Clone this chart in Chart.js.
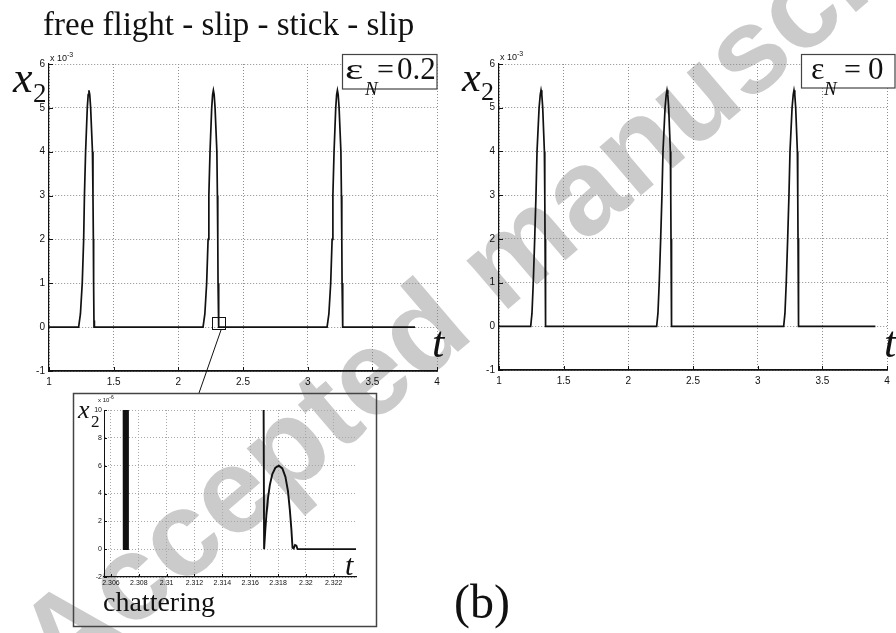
<!DOCTYPE html>
<html>
<head>
<meta charset="utf-8">
<title>free flight - slip - stick - slip</title>
<script src="https://cdn.jsdelivr.net/npm/chart.js@4.4.0/dist/chart.umd.min.js"></script>
<style>
  html, body { margin: 0; padding: 0; background: #fff; }
  #page { position: relative; width: 896px; height: 633px; overflow: hidden; background: #fff; }
  #page svg, #page canvas { position: absolute; }
  #wm { left: 0; top: 0; z-index: 0; }
  #ov { left: 0; top: 0; z-index: 3; pointer-events: none; }
  canvas { z-index: 2; }
  .serif { font-family: "Liberation Serif", "Times New Roman", serif; fill: #111; }
  .sans { font-family: "Liberation Sans", Arial, sans-serif; fill: #111; }
</style>
</head>
<body>
<div id="page">
  <svg id="wm" width="896" height="633">
    <text x="62" y="690" transform="rotate(-40.5 62 690)" font-family="Liberation Sans, Arial, sans-serif"
          font-weight="bold" font-size="121" fill="#cbcbcb">Accepted manuscript</text>
  </svg>

  <canvas id="slip" width="450" height="345" style="left:0;top:50px"></canvas>
  <canvas id="plastic" width="446" height="345" style="left:450px;top:50px"></canvas>
  <canvas id="chatter" width="304" height="200" style="left:73px;top:393px"></canvas>

  <svg id="ov" width="896" height="633">
    <text class="serif" x="43" y="35" font-size="33">free flight - slip - stick - slip</text>

    <!-- left panel -->
    <text class="serif" x="13" y="92" font-size="44" font-style="italic">x</text>
    <text class="serif" x="33" y="102" font-size="27">2</text>
    <text class="sans" x="50" y="61" font-size="9">x 10<tspan dy="-4" font-size="7">-3</tspan></text>
    <rect x="342.5" y="54.5" width="94.5" height="34.5" fill="#fff" stroke="#444" stroke-width="1.2"/>
    <text class="serif" transform="translate(345 79) scale(1.45 1)" x="0" y="0" font-size="30">ε</text>
    <text class="serif" x="365" y="95" font-size="19" font-style="italic">N</text>
    <text class="serif" x="377" y="79" font-size="30">=</text>
    <text class="serif" x="397" y="79" font-size="31">0.2</text>
    <text class="serif" x="432" y="357" font-size="44" font-style="italic">t</text>
    <rect x="212.5" y="317.5" width="13" height="12" fill="none" stroke="#111" stroke-width="1"/>
    <line x1="221" y1="330" x2="199" y2="393" stroke="#111" stroke-width="1"/>

    <!-- right panel -->
    <text class="serif" x="462" y="91" font-size="42" font-style="italic">x</text>
    <text class="serif" x="481" y="100" font-size="26">2</text>
    <text class="sans" x="500" y="60" font-size="9">x 10<tspan dy="-4" font-size="7">-3</tspan></text>
    <rect x="801.5" y="54.5" width="93.5" height="33.5" fill="#fff" stroke="#444" stroke-width="1.2"/>
    <text class="serif" x="811" y="79" font-size="32">ε</text>
    <text class="serif" x="824" y="95" font-size="19" font-style="italic">N</text>
    <text class="serif" x="844" y="79" font-size="30">=</text>
    <text class="serif" x="868" y="79" font-size="31">0</text>
    <text class="serif" x="884" y="357" font-size="44" font-style="italic">t</text>

    <!-- inset -->
    <rect x="73.5" y="393.5" width="303" height="233" fill="none" stroke="#444" stroke-width="1.5"/>
    <text class="serif" x="78" y="418" font-size="26" font-style="italic">x</text>
    <text class="serif" x="91" y="427" font-size="17">2</text>
    <text class="sans" x="98" y="402" font-size="6">x 10<tspan dy="-3" font-size="5">-6</tspan></text>
    <text class="serif" x="345" y="575" font-size="30" font-style="italic">t</text>
    <text class="serif" x="103" y="611" font-size="28">chattering</text>

    <text class="serif" x="454" y="618" font-size="48">(b)</text>
  </svg>
</div>

<script>
// tick positions and labels
var mainTicksT = [1, 1.5, 2, 2.5, 3, 3.5, 4];
var mainTickLabelsT = ['1', '1.5', '2', '2.5', '3', '3.5', '4'];
var mainTicksX2 = [-1, 0, 1, 2, 3, 4, 5, 6];
var mainTickLabelsX2 = ['-1', '0', '1', '2', '3', '4', '5', '6'];

var insetTicksT = [2.306, 2.308, 2.31, 2.312, 2.314, 2.316, 2.318, 2.32, 2.322];
var insetTickLabelsT = ['2.306', '2.308', '2.31', '2.312', '2.314', '2.316', '2.318', '2.32', '2.322'];
var insetTicksX2 = [-2, 0, 2, 4, 6, 8, 10];
var insetTickLabelsX2 = ['-2', '0', '2', '4', '6', '8', '10'];

// eps_N = 0.2 : x2 in units of 1e-3
var slipT = [1.000,
  1.229, 1.243, 1.257, 1.268, 1.274, 1.283, 1.296, 1.303, 1.309, 1.315, 1.322, 1.336, 1.340, 1.343, 1.345, 1.348, 1.350, 1.352,
  2.191, 2.205, 2.219, 2.230, 2.236, 2.245, 2.258, 2.265, 2.271, 2.277, 2.284, 2.298, 2.302, 2.305, 2.307, 2.310, 2.312, 2.314,
  3.150, 3.164, 3.178, 3.189, 3.195, 3.204, 3.217, 3.224, 3.230, 3.236, 3.243, 3.257, 3.261, 3.264, 3.266, 3.269, 3.271, 3.273,
  3.830];
var slipX2 = [0,
  0, 0.3, 1, 2, 3, 4, 5, 5.3, 5.4, 5.3, 5.0, 4, 3, 2, 1, 0, 0.15, 0,
  0, 0.3, 1, 2, 3, 4, 5, 5.3, 5.4, 5.3, 5.0, 4, 3, 2, 1, 0, 0.15, 0,
  0, 0.3, 1, 2, 3, 4, 5, 5.3, 5.4, 5.3, 5.0, 4, 3, 2, 1, 0, 0.15, 0,
  0];

// eps_N = 0 : x2 in units of 1e-3
var plasticT = [1.000,
  1.245, 1.255, 1.265, 1.276, 1.286, 1.294, 1.310, 1.319, 1.325, 1.331, 1.338, 1.351, 1.354, 1.356, 1.359, 1.361,
  2.219, 2.229, 2.239, 2.250, 2.260, 2.268, 2.284, 2.293, 2.299, 2.305, 2.312, 2.325, 2.328, 2.330, 2.333, 2.335,
  3.201, 3.211, 3.221, 3.232, 3.242, 3.250, 3.266, 3.275, 3.281, 3.287, 3.294, 3.307, 3.310, 3.312, 3.315, 3.317,
  3.910];
var plasticX2 = [0,
  0, 0.3, 1, 2, 3, 4, 5, 5.3, 5.4, 5.3, 5.0, 4, 3, 2, 1, 0,
  0, 0.3, 1, 2, 3, 4, 5, 5.3, 5.4, 5.3, 5.0, 4, 3, 2, 1, 0,
  0, 0.3, 1, 2, 3, 4, 5, 5.3, 5.4, 5.3, 5.0, 4, 3, 2, 1, 0,
  0];

// zoom around t = 2.31 : x2 in units of 1e-6 (values above 10 leave the frame)
var chatterT = [2.30690, 2.30692, 2.30700, 2.30702, 2.30710, 2.30712, 2.30720, 2.30722,
  2.31693, 2.31700, 2.31708, 2.31716, 2.31727, 2.31741, 2.31759, 2.31781, 2.31806, 2.31831,
  2.31853, 2.31871, 2.31885, 2.31896, 2.31904, 2.31912, 2.31922, 2.31932, 2.31940, 2.32360];
var chatterX2 = [20, 0, 0, 20, 20, 0, 0, 20,
  20, 0, 1.3, 2.4, 3.6, 4.6, 5.4, 5.85, 6.0, 5.8,
  5.2, 4.2, 2.8, 1.4, 0.1, 0.05, 0.3, 0.25, 0, 0];

function toPoints(xs, ys) {
    var pts = [];
    for (var i = 0; i < xs.length; i++) {
        pts.push({ x: xs[i], y: ys[i] });
    }
    return pts;
}

function fixedTicks(values) {
    return function (scale) {
        scale.ticks = values.map(function (v) { return { value: v }; });
    };
}

// matlab style: short tick marks pointing into the plot
var inwardTicks = {
    id: 'inwardTicks',
    afterDatasetsDraw: function (chart, args, opts) {
        var ctx = chart.ctx, a = chart.chartArea, len = opts.len || 4;
        ctx.save();
        ctx.strokeStyle = '#111';
        ctx.lineWidth = 1;
        ctx.beginPath();
        chart.scales.x.ticks.forEach(function (t) {
            var px = Math.round(chart.scales.x.getPixelForValue(t.value)) + 0.5;
            ctx.moveTo(px, a.bottom);
            ctx.lineTo(px, a.bottom - len);
        });
        chart.scales.y.ticks.forEach(function (t) {
            var py = Math.round(chart.scales.y.getPixelForValue(t.value)) + 0.5;
            ctx.moveTo(a.left, py);
            ctx.lineTo(a.left + len, py);
        });
        ctx.stroke();
        ctx.restore();
    }
};

function makeScale(o) {
    return {
        type: 'linear',
        min: o.min,
        max: o.max,
        afterBuildTicks: fixedTicks(o.ticks),
        afterFit: function (scale) {
            if (o.width) scale.width = o.width;
            if (o.height) scale.height = o.height;
        },
        ticks: {
            autoSkip: false,
            maxRotation: 0,
            padding: o.padding,
            color: '#111',
            font: { family: '"Liberation Sans", Arial, sans-serif', size: o.fontSize },
            callback: function (v, i) { return o.labels[i]; }
        },
        grid: { color: o.gridColor, lineWidth: 1, drawTicks: false },
        border: { display: true, color: '#111', width: o.borderWidth, dash: [1, 2] }
    };
}

function drawChart(id, data, cfg) {
    var ctx = document.getElementById(id).getContext('2d');
    return new Chart(ctx, {
        type: 'scatter',
        data: {
            datasets: [{
                data: data,
                showLine: true,
                borderColor: '#111',
                borderWidth: cfg.lineWidth,
                pointRadius: 0,
                tension: 0
            }]
        },
        options: {
            responsive: false,
            animation: false,
            devicePixelRatio: 1,
            events: [],
            layout: { padding: cfg.padding },
            plugins: { legend: { display: false }, tooltip: { enabled: false }, inwardTicks: { len: cfg.tickLen } },
            scales: { x: cfg.x, y: cfg.y }
        },
        plugins: [inwardTicks]
    });
}

var mainFont = 10;

drawChart('slip', toPoints(slipT, slipX2), {
    lineWidth: 1.7,
    tickLen: 4,
    padding: { top: 14, right: 13, left: 0, bottom: 0 },
    x: makeScale({ min: 1, max: 4, ticks: mainTicksT, labels: mainTickLabelsT, height: 24, padding: 5,
        fontSize: mainFont, gridColor: '#8c8c8c', borderWidth: 1.8 }),
    y: makeScale({ min: -1, max: 6, ticks: mainTicksX2, labels: mainTickLabelsX2, width: 49, padding: 4,
        fontSize: mainFont, gridColor: '#8c8c8c', borderWidth: 1.2 })
});

drawChart('plastic', toPoints(plasticT, plasticX2), {
    lineWidth: 1.7,
    tickLen: 4,
    padding: { top: 14, right: 9, left: 0, bottom: 0 },
    x: makeScale({ min: 1, max: 4, ticks: mainTicksT, labels: mainTickLabelsT, height: 25, padding: 5,
        fontSize: mainFont, gridColor: '#8c8c8c', borderWidth: 1.8 }),
    y: makeScale({ min: -1, max: 6, ticks: mainTicksX2, labels: mainTickLabelsX2, width: 49, padding: 4,
        fontSize: mainFont, gridColor: '#8c8c8c', borderWidth: 1.2 })
});

drawChart('chatter', toPoints(chatterT, chatterX2), {
    lineWidth: 1.9,
    tickLen: 3,
    padding: { top: 17, right: 21, left: 0, bottom: 0 },
    x: makeScale({ min: 2.3055, max: 2.3236, ticks: insetTicksT, labels: insetTickLabelsT, height: 16, padding: 2,
        fontSize: 7, gridColor: '#a8a8a8', borderWidth: 1.2 }),
    y: makeScale({ min: -2, max: 10, ticks: insetTicksX2, labels: insetTickLabelsX2, width: 31, padding: 2,
        fontSize: 7, gridColor: '#a8a8a8', borderWidth: 1 })
});
</script>
</body>
</html>
